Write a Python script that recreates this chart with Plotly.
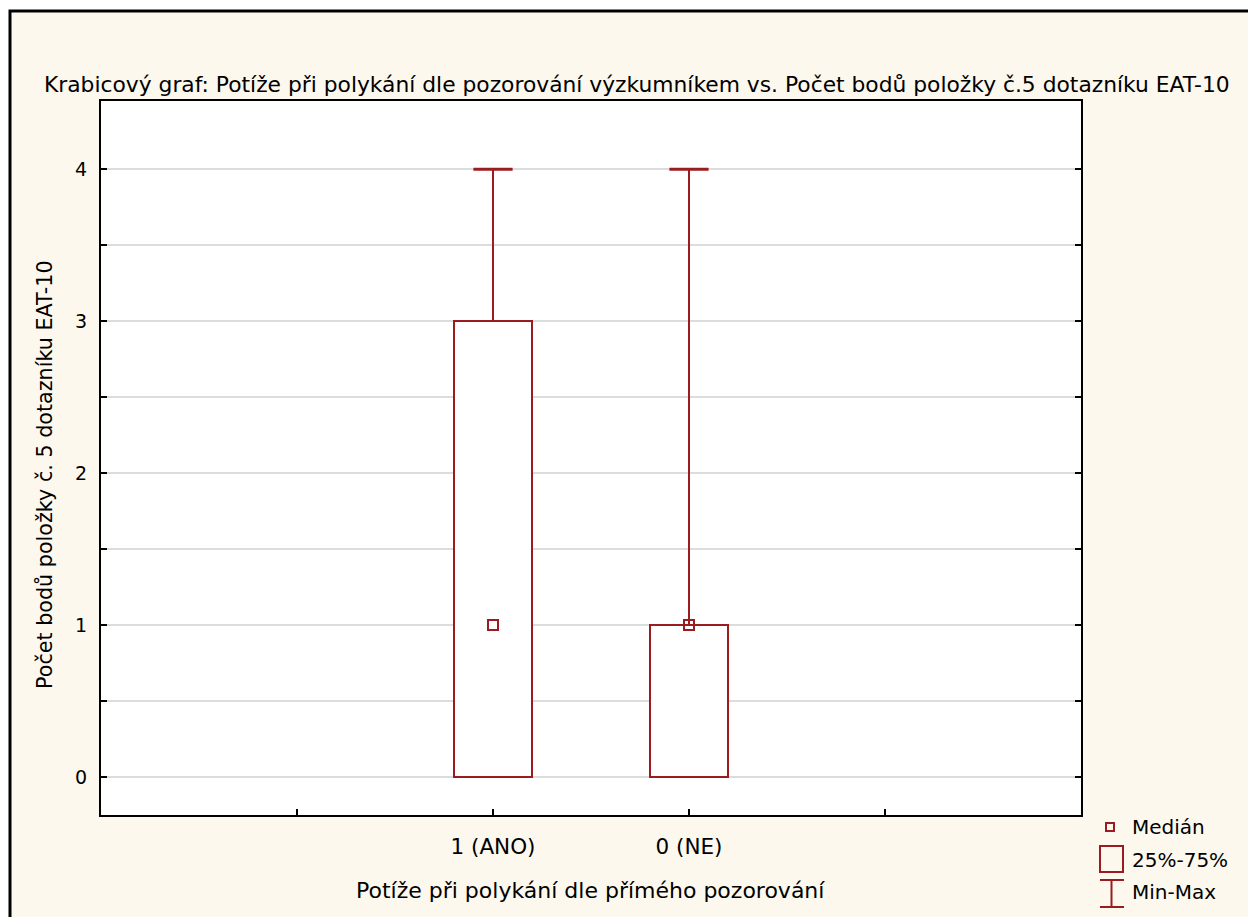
import plotly.graph_objects as go

# ---- data ----
categories = ["1 (ANO)", "0 (NE)"]
cat_pos = [2, 3]
q_min = [0, 0]
q1 = [0, 0]
median = [1, 1]
q3 = [3, 1]
q_max = [4, 4]
y_tick_vals = [0, 0.5, 1, 1.5, 2, 2.5, 3, 3.5, 4]
y_tick_text = ["0", "", "1", "", "2", "", "3", "", "4"]
x_tick_vals = [1, 2, 3, 4]
x_tick_text = ["", "1 (ANO)", "0 (NE)", ""]

title = "Krabicový graf: Potíže při polykání dle pozorování výzkumníkem vs. Počet bodů položky č.5 dotazníku EAT-10"
x_title = "Potíže při polykání dle přímého pozorování"
y_title = "Počet bodů položky č. 5 dotazníku EAT-10"
legend_labels = ["Medián", "25%-75%", "Min-Max"]

RED = "#9B1C20"
CREAM = "#FDF8EE"
FONT = "DejaVu Sans, Verdana, sans-serif"

OFF = 8  # page body margin
W, H = 1256 - OFF, 917 - OFF
L, R, T, B = 101 - OFF, 1081 - OFF, 101 - OFF, 815 - OFF


def px(x):  # screen pixel -> paper
    return (x - OFF - L) / (R - L)


def py(y):
    return (B - (y - OFF)) / (B - T)


fig = go.Figure()

# whiskers
wx, wy = [], []
for c, lo, a, b, hi in zip(cat_pos, q_min, q1, q3, q_max):
    wx += [c, c, None, c, c, None]
    wy += [b, hi, None, lo, a, None]
fig.add_trace(go.Scatter(x=wx, y=wy, mode="lines", line=dict(color=RED, width=2),
                         showlegend=False, hoverinfo="skip"))
# caps (min caps only where they would not be hidden by the box edge)
cap_x = list(cat_pos) + [c for c, lo, a in zip(cat_pos, q_min, q1) if lo < a]
cap_y = list(q_max) + [lo for lo, a in zip(q_min, q1) if lo < a]
fig.add_trace(go.Scatter(x=cap_x, y=cap_y, mode="markers",
                         marker=dict(symbol="line-ew", size=28, line=dict(color=RED, width=3)),
                         showlegend=False, hoverinfo="skip"))
# boxes (25%-75%)
fig.add_trace(go.Bar(
    x=cat_pos, base=q1, y=[b - a for a, b in zip(q1, q3)], width=0.395,
    marker=dict(color="white", line=dict(color=RED, width=2)),
    showlegend=False, hoverinfo="skip"))
# medians
fig.add_trace(go.Scatter(x=cat_pos, y=median, mode="markers",
                         marker=dict(symbol="square-open", size=10, color=RED, line=dict(color=RED, width=2)),
                         showlegend=False, hoverinfo="skip"))

shapes = []
# outer cream frame with black border
shapes.append(dict(type="rect", xref="paper", yref="paper", layer="below",
                   x0=px(10), x1=px(1262), y0=py(925), y1=py(11),
                   fillcolor=CREAM, line=dict(color="black", width=3)))
# plot area white
shapes.append(dict(type="rect", xref="paper", yref="paper", layer="below",
                   x0=0, x1=1, y0=0, y1=1, fillcolor="white", line=dict(width=0)))

# legend icons
shapes.append(dict(type="rect", xref="paper", yref="paper",
                   x0=px(1106), x1=px(1114), y0=py(831), y1=py(823),
                   fillcolor="rgba(0,0,0,0)", line=dict(color=RED, width=2)))
shapes.append(dict(type="rect", xref="paper", yref="paper",
                   x0=px(1100), x1=px(1123), y0=py(872), y1=py(846),
                   fillcolor="rgba(0,0,0,0)", line=dict(color=RED, width=2)))
shapes.append(dict(type="line", xref="paper", yref="paper",
                   x0=px(1111.5), x1=px(1111.5), y0=py(907), y1=py(880), line=dict(color=RED, width=2)))
shapes.append(dict(type="line", xref="paper", yref="paper",
                   x0=px(1100), x1=px(1124), y0=py(880), y1=py(880), line=dict(color=RED, width=2)))
shapes.append(dict(type="line", xref="paper", yref="paper",
                   x0=px(1100), x1=px(1124), y0=py(907), y1=py(907), line=dict(color=RED, width=2)))

annotations = [
    dict(text=title, x=px(637), y=py(84), xref="paper", yref="paper", showarrow=False,
         xanchor="center", yanchor="middle", font=dict(size=21.8, color="black", family=FONT)),
    dict(text=x_title, x=px(590), y=py(890), xref="paper", yref="paper", showarrow=False,
         xanchor="center", yanchor="middle", font=dict(size=22, color="black", family=FONT)),
    dict(text=y_title, x=px(45), y=py(475), xref="paper", yref="paper", showarrow=False,
         textangle=-90, xanchor="center", yanchor="middle", font=dict(size=20.7, color="black", family=FONT)),
]
leg_y = [827, 860, 892]
for lab, yy in zip(legend_labels, leg_y):
    annotations.append(dict(text=lab, x=px(1130), y=py(yy), xref="paper", yref="paper", showarrow=False,
                            xanchor="left", yanchor="middle", font=dict(size=20, color="black", family=FONT)))

fig.update_layout(
    width=W, height=H,
    margin=dict(l=L, r=W - R, t=T, b=H - B, pad=0),
    paper_bgcolor="white", plot_bgcolor="white",
    font=dict(family=FONT, size=18, color="black"),
    shapes=shapes, annotations=annotations,
    bargap=0, showlegend=False,
)
fig.update_xaxes(range=[0, 5], tickvals=x_tick_vals, ticktext=x_tick_text,
                 showgrid=False, zeroline=False, showline=True, linecolor="black", linewidth=2,
                 mirror=True, ticks="inside", ticklen=6, tickcolor="black", tickwidth=2,
                 ticklabelstandoff=11, tickfont=dict(size=21.5))
fig.update_yaxes(range=[-0.25, 4.45], tickvals=y_tick_vals, ticktext=y_tick_text,
                 showgrid=True, gridcolor="#DCDCDC", gridwidth=2, zeroline=False,
                 showline=True, linecolor="black", linewidth=2, mirror="ticks",
                 ticks="inside", ticklen=6, tickcolor="black", tickwidth=2,
                 ticklabelstandoff=8, tickfont=dict(size=19))

fig.write_html("out.html")
